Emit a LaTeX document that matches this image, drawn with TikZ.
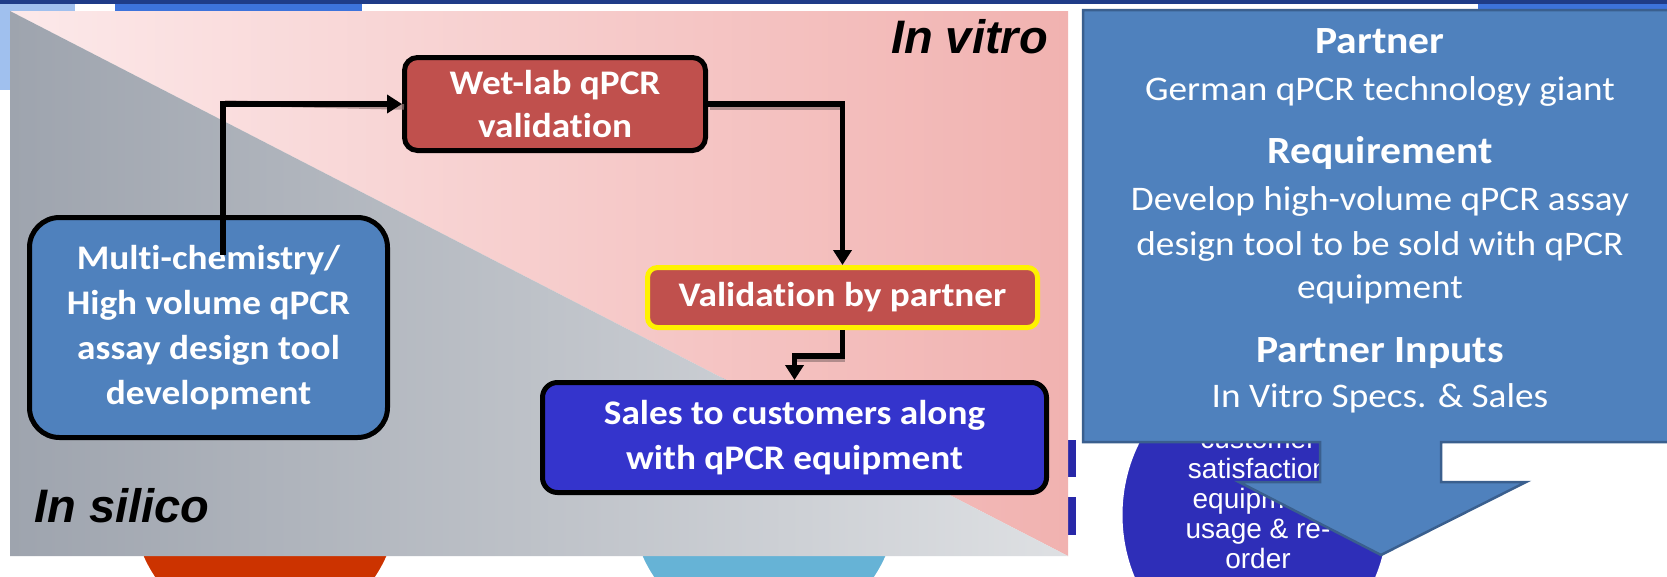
\documentclass[tikz,border=0pt]{standalone}
\usepackage{fontspec}
\setmainfont{Carlito}[FakeStretch=1.08,Ligatures={NoCommon,NoContextual}]
\newfontfamily\arialf{Liberation Sans}
\usetikzlibrary{arrows.meta}
\definecolor{boxred}{RGB}{192,80,77}
\definecolor{boxblue}{RGB}{79,129,189}
\definecolor{salesblue}{RGB}{52,52,204}
\definecolor{calloutedge}{RGB}{58,95,142}
\definecolor{circblue}{RGB}{46,46,184}
\definecolor{circorange}{RGB}{204,51,0}
\definecolor{circlight}{RGB}{102,179,214}
\definecolor{pinkL}{RGB}{252,233,234}
\definecolor{pinkR}{RGB}{241,178,176}
\definecolor{greyL}{RGB}{158,164,174}
\definecolor{greyR}{RGB}{222,224,227}
\definecolor{navy}{RGB}{31,60,136}
\definecolor{midblue}{RGB}{61,115,219}
\definecolor{paleblue}{RGB}{160,192,238}
\definecolor{barblue}{RGB}{40,40,168}
\definecolor{shadowc}{RGB}{150,120,120}
\begin{document}
\begin{tikzpicture}[x=1pt,y=-1pt,
  box/.style={draw=black,line width=5pt,text=white,align=center,inner sep=0pt,
    font=\bfseries\fontsize{34.5}{45}\selectfont},
  conn/.style={draw=black,line width=5.5pt,-{Triangle[length=15pt,width=18pt]}},
  connshadow/.style={draw=shadowc,line width=5.5pt},
  hdr/.style={text=white,anchor=base,inner sep=0pt,font=\bfseries\fontsize{38.5}{40}\selectfont},
  bod/.style={text=white,anchor=base,inner sep=0pt,font=\fontsize{34.5}{40}\selectfont},
  tag/.style={anchor=base,inner sep=0pt,text=black,font=\arialf\bfseries\itshape\fontsize{47}{50}\selectfont}]
\useasboundingbox (0,0) rectangle (1667,576);
\clip (0,0) rectangle (1667,576);
% background
\fill[white] (0,0) rectangle (1667,576);
\fill[navy] (0,0) rectangle (1667,4);
\fill[paleblue] (0,4) rectangle (75,11);
\fill[midblue] (115,4) rectangle (362,11);
\fill[midblue] (1478,4) rectangle (1667,10);
\fill[paleblue] (0,11) rectangle (12,90);
% circles behind
\fill[circorange,draw=white,line width=5pt] (265,503) circle (135);
\fill[circlight,draw=white,line width=5pt] (764,503) circle [radius=135];
\fill[circblue,draw=white,line width=5pt] (1255,515) ellipse [x radius=135,y radius=150];
\node[text=white,align=center,inner sep=0pt,font=\arialf\fontsize{28}{30}\selectfont]
  (circtext) at (1258,500) {customer\\satisfaction\\equipment\\usage \& re-\\order};
% bars
\fill[barblue] (1068,440) rectangle (1076,477);
\fill[barblue] (1068,497) rectangle (1076,535);
% panel
\shade[left color=pinkL,right color=pinkR] (10,11) -- (1068,11) -- (1068,556) -- cycle;
\shade[left color=greyL,right color=greyR] (10,11) -- (1068,556) -- (10,556) -- cycle;
\node[tag,anchor=base east] (vitro) at (1048,53) {In vitro};
\node[tag,anchor=base west] (silico) at (34,522) {In silico};
% boxes
\node[box,fill=boxblue,minimum width=358,minimum height=220,rounded corners=30pt]
  (dev) at (208.5,327.5) {Multi-chemistry/\\High volume qPCR\\assay design tool\\development};
\node[box,fill=boxred,minimum width=301,minimum height=93,rounded corners=13pt,
  font=\bfseries\fontsize{34.5}{43}\selectfont]
  (wet) at (555,104) {Wet-lab qPCR\\validation};
\node[box,draw=yellow,fill=boxred,minimum width=390,minimum height=60,rounded corners=10pt]
  (valp) at (842.5,297.5) {Validation by partner};
\node[box,fill=salesblue,minimum width=504,minimum height=110,rounded corners=15pt]
  (sales) at (794.5,437.5) {Sales to customers along\\with qPCR equipment};
% connectors
\coordinate (s1) at (223,255);
\begin{scope}[transform canvas={shift={(2pt,-3pt)}},opacity=0.7]
\draw[connshadow] (223,100) -- (wet.west);
\draw[connshadow] (wet.east) -- (842.5,104);
\draw[connshadow] (valp.south |- 0,356) -- (sales.north |- 0,356);
\end{scope}
\draw[conn] (s1) |- (wet.west);
\draw[conn] (wet.east) -| (valp.north);
\draw[conn] (valp.south) -- ++(0,26) -| (sales.north);
% callout
\draw[fill=boxblue,draw=calloutedge,line width=2.5pt]
  (1083,10) -- (1680,10) -- (1680,442) -- (1441,442) -- (1441,482) -- (1526,482)
  -- (1381,555) -- (1239,482) -- (1320,482) -- (1320,442) -- (1083,442) -- cycle;
\node[hdr] (h1) at (1380,53) {Partner};
\node[bod] (b1) at (1380,100) {German qPCR technology giant};
\node[hdr] (h2) at (1380,163) {Requirement};
\node[bod] (b2) at (1380,210) {Develop high-volume qPCR assay};
\node[bod] (b3) at (1380,255) {design tool to be sold with qPCR};
\node[bod] (b4) at (1380,298) {equipment};
\node[hdr] (h3) at (1380,362) {Partner Inputs};
\node[bod] (b5) at (1380,407) {In Vitro Specs. \& Sales};
\end{tikzpicture}
\end{document}
